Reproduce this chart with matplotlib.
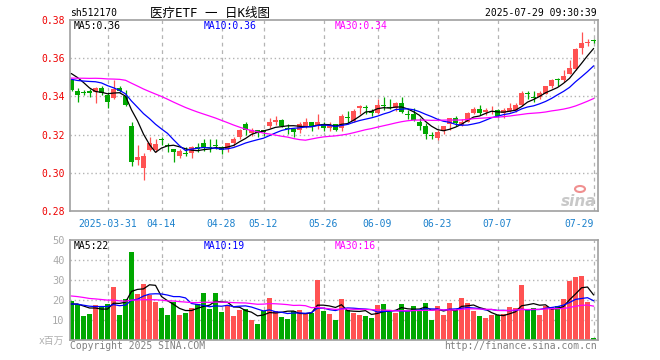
import matplotlib
matplotlib.use("Agg")
import matplotlib.pyplot as plt
from matplotlib.patches import Ellipse
import numpy as np
import pandas as pd

code = "sh512170"
title = "医疗ETF 一 日K线图"
stamp = "2025-07-29 09:30:39"

# trading sessions shown on the chart
days_by_month = {
    "03": [21, 24, 25, 26, 27, 28, 31],
    "04": [1, 2, 3, 7, 8, 9, 10, 11, 14, 15, 16, 17, 18, 21, 22, 23, 24, 25, 28, 29, 30],
    "05": [6, 7, 8, 9, 12, 13, 14, 15, 16, 19, 20, 21, 22, 23, 26, 27, 28, 29, 30],
    "06": [3, 4, 5, 6, 9, 10, 11, 12, 13, 16, 17, 18, 19, 20, 23, 24, 25, 26, 27, 30],
    "07": [1, 2, 3, 4, 7, 8, 9, 10, 11, 14, 15, 16, 17, 18, 21, 22, 23, 24, 25, 28, 29],
}
dates = [f"2025-{m}-{d:02d}" for m, ds in days_by_month.items() for d in ds]

tick_dates = ["2025-03-31", "2025-04-14", "2025-04-28", "2025-05-12", "2025-05-26",
              "2025-06-09", "2025-06-23", "2025-07-07", "2025-07-29"]
tick_labels = ["2025-03-31", "04-14", "04-28", "05-12", "05-26", "06-09", "06-23", "07-07", "07-29"]

open_ = [0.3487, 0.3430, 0.3422, 0.3428, 0.3421, 0.3445, 0.3407, 0.3390, 0.3445, 0.3400,
         0.3243, 0.3065, 0.3026, 0.3120, 0.3117, 0.3176, 0.3148, 0.3124, 0.3086, 0.3105,
         0.3103, 0.3134, 0.3155, 0.3133, 0.3143, 0.3134, 0.3124, 0.3155, 0.3190, 0.3253,
         0.3208, 0.3222, 0.3222, 0.3246, 0.3267, 0.3274, 0.3234, 0.3229, 0.3225, 0.3246,
         0.3267, 0.3246, 0.3253, 0.3236, 0.3253, 0.3236, 0.3290, 0.3271, 0.3337, 0.3343,
         0.3323, 0.3313, 0.3353, 0.3343, 0.3341, 0.3365, 0.3308, 0.3306, 0.3267, 0.3246,
         0.3196, 0.3183, 0.3218, 0.3257, 0.3285, 0.3250, 0.3267, 0.3313, 0.3334, 0.3316,
         0.3321, 0.3327, 0.3313, 0.3323, 0.3323, 0.3355, 0.3419, 0.3398, 0.3397, 0.3410,
         0.3456, 0.3489, 0.3484, 0.3519, 0.3543, 0.3651, 0.3681, 0.3695]
high = [0.3490, 0.3442, 0.3431, 0.3440, 0.3447, 0.3456, 0.3421, 0.3484, 0.3456, 0.3431,
        0.3267, 0.3145, 0.3103, 0.3190, 0.3176, 0.3190, 0.3155, 0.3127, 0.3127, 0.3134,
        0.3141, 0.3155, 0.3176, 0.3176, 0.3176, 0.3138, 0.3157, 0.3190, 0.3227, 0.3267,
        0.3236, 0.3225, 0.3225, 0.3288, 0.3299, 0.3281, 0.3253, 0.3236, 0.3267, 0.3285,
        0.3267, 0.3309, 0.3267, 0.3267, 0.3257, 0.3309, 0.3323, 0.3334, 0.3355, 0.3355,
        0.3334, 0.3386, 0.3397, 0.3386, 0.3372, 0.3397, 0.3330, 0.3341, 0.3285, 0.3260,
        0.3215, 0.3225, 0.3246, 0.3288, 0.3295, 0.3281, 0.3316, 0.3344, 0.3355, 0.3337,
        0.3348, 0.3334, 0.3337, 0.3365, 0.3365, 0.3428, 0.3428, 0.3428, 0.3428, 0.3456,
        0.3491, 0.3498, 0.3536, 0.3589, 0.3655, 0.3735, 0.3700, 0.3703]
low = [0.3428, 0.3372, 0.3407, 0.3398, 0.3365, 0.3407, 0.3341, 0.3386, 0.3421, 0.3351,
       0.3033, 0.3040, 0.2960, 0.3113, 0.3110, 0.3145, 0.3110, 0.3058, 0.3075, 0.3086,
       0.3079, 0.3110, 0.3113, 0.3110, 0.3124, 0.3100, 0.3110, 0.3138, 0.3176, 0.3197,
       0.3194, 0.3190, 0.3194, 0.3232, 0.3250, 0.3239, 0.3204, 0.3187, 0.3208, 0.3236,
       0.3218, 0.3229, 0.3218, 0.3218, 0.3218, 0.3218, 0.3253, 0.3264, 0.3309, 0.3309,
       0.3295, 0.3309, 0.3327, 0.3334, 0.3323, 0.3313, 0.3281, 0.3271, 0.3222, 0.3176,
       0.3176, 0.3173, 0.3201, 0.3225, 0.3246, 0.3246, 0.3267, 0.3306, 0.3302, 0.3302,
       0.3306, 0.3292, 0.3285, 0.3316, 0.3320, 0.3351, 0.3386, 0.3372, 0.3386, 0.3410,
       0.3442, 0.3452, 0.3473, 0.3515, 0.3540, 0.3624, 0.3666, 0.3680]
close = [0.3435, 0.3409, 0.3420, 0.3418, 0.3445, 0.3417, 0.3369, 0.3438, 0.3428, 0.3355,
         0.3058, 0.3082, 0.3089, 0.3155, 0.3152, 0.3170, 0.3138, 0.3107, 0.3113, 0.3101,
         0.3134, 0.3124, 0.3134, 0.3129, 0.3139, 0.3117, 0.3155, 0.3176, 0.3225, 0.3225,
         0.3225, 0.3208, 0.3212, 0.3267, 0.3278, 0.3243, 0.3230, 0.3215, 0.3253, 0.3267,
         0.3243, 0.3267, 0.3236, 0.3246, 0.3225, 0.3295, 0.3286, 0.3323, 0.3348, 0.3339,
         0.3313, 0.3355, 0.3349, 0.3339, 0.3365, 0.3316, 0.3304, 0.3274, 0.3246, 0.3204,
         0.3192, 0.3215, 0.3243, 0.3285, 0.3260, 0.3267, 0.3313, 0.3334, 0.3313, 0.3327,
         0.3325, 0.3295, 0.3327, 0.3337, 0.3355, 0.3417, 0.3415, 0.3394, 0.3417, 0.3452,
         0.3484, 0.3485, 0.3505, 0.3547, 0.3648, 0.3679, 0.3685, 0.3691]
# volume, millions of shares
volume = [19.7, 18, 12, 13, 17.3, 17, 18, 26.7, 12.5, 20.3,
          44, 23, 28, 22.7, 19, 16, 12.5, 19, 12.5, 13.7,
          16, 18, 23.7, 15.7, 23.7, 14, 17.3, 12, 15, 15.3,
          10, 8, 14.3, 21, 14.3, 11.7, 10.7, 14.7, 15, 13.7,
          13.7, 30, 14.7, 13, 10, 20.5, 15, 13.5, 12.4, 12,
          11, 17.5, 18, 14, 13.5, 18, 14.5, 17, 14.5, 18.5,
          10, 17, 12.5, 18.5, 15, 21, 18.5, 14.5, 12, 11,
          12.5, 12.5, 13, 16.5, 16, 27.5, 15, 16, 12.5, 17,
          16.5, 17, 20.5, 29.5, 31.5, 32, 19, 1]

# sessions before the window, only needed to start the moving averages
prior_close = [0.343, 0.342, 0.344, 0.343, 0.345, 0.344, 0.346, 0.347,
               0.350, 0.352, 0.353, 0.355, 0.356, 0.354, 0.355, 0.357, 0.356, 0.354, 0.352, 0.350,
               0.347, 0.345, 0.344, 0.346, 0.348, 0.351, 0.355, 0.356, 0.354]
prior_volume = [27, 25, 28, 24, 26, 27, 25, 26, 24, 28,
                23, 21, 24, 20, 22, 23, 21, 22, 20, 24,
                19, 17, 18, 19, 17, 18, 17, 18, 17.3]

price_ticks = [0.28, 0.30, 0.32, 0.34, 0.36, 0.38]
vol_ticks = [10, 20, 30, 40, 50]
price_ma_text = ["MA5:0.36", "MA10:0.36", "MA30:0.34"]
vol_ma_text = ["MA5:22", "MA10:19", "MA30:16"]

RED = "#ff5252"
GREEN = "#00a800"
MA_COLORS = ["black", "#0000ff", "#ff00ff"]
GRID = "#b4b4b4"

plt.rcParams["font.family"] = ["DejaVu Sans Mono", "Noto Sans CJK SC"]

n = len(close)
x = np.arange(n)
o = np.array(open_); h = np.array(high); l = np.array(low); c = np.array(close)
v = np.array(volume)
col = np.where(c >= o, RED, GREEN)

cs = pd.Series(prior_close + close)
vs = pd.Series(prior_volume + volume)
price_ma = [cs.rolling(k).mean().to_numpy()[-n:] for k in (5, 10, 30)]
vol_ma = [vs.rolling(k).mean().to_numpy()[-n:] for k in (5, 10, 30)]
tick_idx = [dates.index(d) for d in tick_dates]

W, H = 660, 360
def fx(px):
    return px / W
def fy(py):
    return 1 - py / H

fig = plt.figure(figsize=(6.6, 3.6), dpi=100)
ax1 = fig.add_axes([fx(70), fy(211), 528 / W, 191 / H])
ax2 = fig.add_axes([fx(70), fy(340), 528 / W, 100 / H])
xlim = (-0.25, 87.75)

for ax in (ax1, ax2):
    ax.set_xlim(*xlim)
    for s in ax.spines.values():
        s.set_color("#a0a0a0")
        s.set_linewidth(1.2)
    for t in tick_idx:
        ax.axvline(t, color=GRID, lw=0.9, ls=(0, (3, 3)), zorder=0)

# price panel
ax1.set_ylim(0.28, 0.38)
for p in price_ticks[1:-1]:
    ax1.axhline(p, color=GRID, lw=1, ls=(0, (1, 2)), zorder=0)
ax1.vlines(x, l, h, colors=col, lw=0.9, zorder=2)
body = np.maximum(np.abs(c - o), 0.0004)
ax1.bar(x, body, bottom=np.minimum(o, c), width=0.8, color=col, lw=0, zorder=2)
for ma, mc in zip(price_ma, MA_COLORS):
    ax1.plot(x, ma, color=mc, lw=0.9, zorder=3)
ax1.set_yticks(price_ticks, [f"{p:.2f}" for p in price_ticks])
ax1.tick_params(axis="y", length=0, pad=4, labelcolor="#ee0000", labelsize=7)
ax1.set_xticks(tick_idx, tick_labels)
ax1.tick_params(axis="x", length=0, pad=6, labelcolor="#1a80cc", labelsize=7)
ax1.get_xticklabels()[-1].set_horizontalalignment("right")
for txt, mc, px in zip(price_ma_text, MA_COLORS, (74, 204, 335)):
    fig.text(fx(px), fy(26), txt, color=mc, fontsize=7, va="center")

# volume panel
ax2.set_ylim(0, 50)
for t in vol_ticks[:-1]:
    ax2.axhline(t, color=GRID, lw=1, ls=(0, (1, 2)), zorder=0)
ax2.bar(x, v, width=0.8, color=col, lw=0, zorder=2)
for ma, mc in zip(vol_ma, MA_COLORS):
    ax2.plot(x, ma, color=mc, lw=0.9, zorder=3)
ax2.set_yticks(vol_ticks, [str(t) for t in vol_ticks])
ax2.tick_params(axis="y", length=0, pad=4, labelcolor="#aaaaaa", labelsize=7.5)
ax2.set_xticks([])
for txt, mc, px in zip(vol_ma_text, MA_COLORS, (74, 204, 335)):
    fig.text(fx(px), fy(246), txt, color=mc, fontsize=7, va="center")

# header and footer text
fig.text(fx(70), fy(13), code, fontsize=7, va="center")
fig.text(fx(150), fy(13), title, fontsize=9, va="center",
         family=["DejaVu Sans Mono", "Noto Sans CJK SC"])
fig.text(fx(597), fy(13), stamp, fontsize=7, va="center", ha="right")
fig.text(fx(64), fy(341), "x百万", fontsize=7, va="center", ha="right", color="#b0b0b0")
fig.text(fx(70), fy(346), "Copyright 2025 SINA.COM", fontsize=7, va="center", color="#808080")
fig.text(fx(597), fy(346), "http://finance.sina.com.cn", fontsize=7, va="center",
         ha="right", color="#808080")

# sina watermark
fig.text(fx(596), fy(206), "sina", fontsize=11, fontweight="bold", fontstyle="italic",
         color="#c8c8c8", ha="right", va="baseline", family="DejaVu Sans")
fig.patches.append(Ellipse((fx(580), fy(189)), 10 / W, 6 / H, transform=fig.transFigure,
                           fill=False, edgecolor="#f09090", lw=1.5))

fig.savefig("out.png", dpi=100)
